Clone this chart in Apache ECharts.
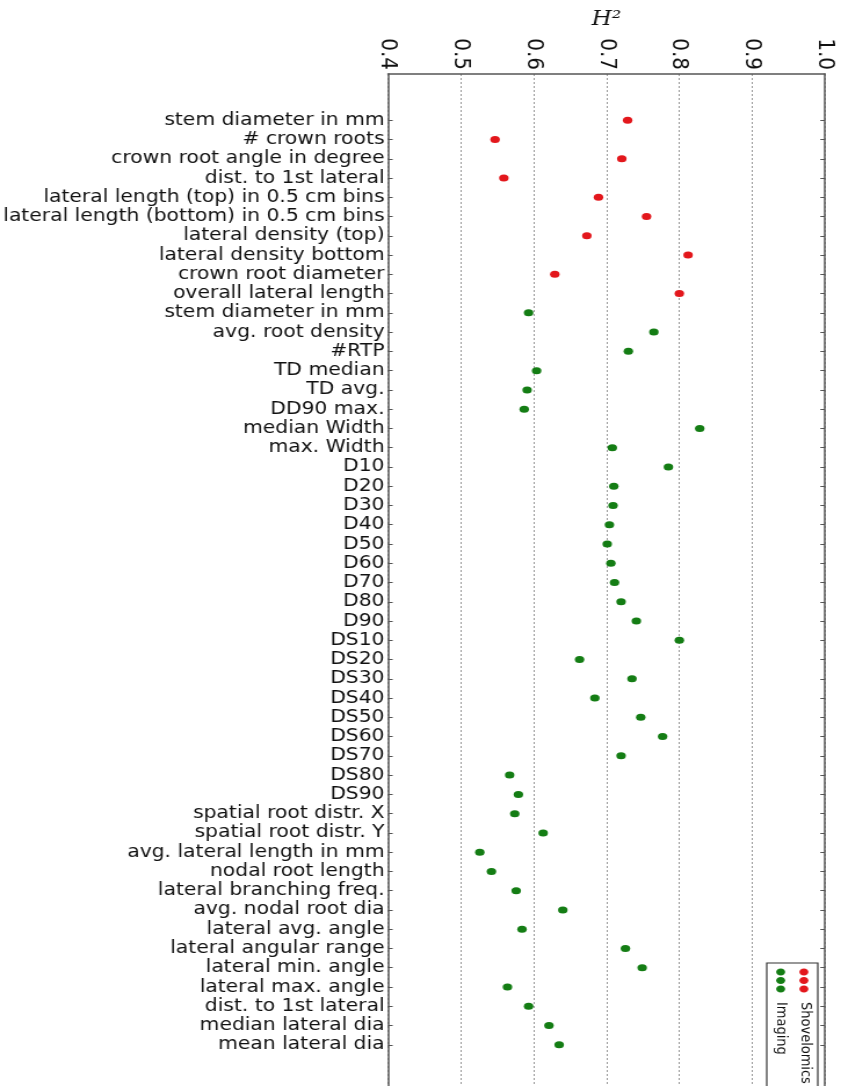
<!DOCTYPE html>
<html>
<head>
<meta charset="utf-8">
<script src="https://cdn.jsdelivr.net/npm/echarts@6/dist/echarts.min.js"></script>
<style>
  html, body { margin: 0; padding: 0; background: #fff; overflow: hidden; }
  /* the original figure is stretched sideways, so the chart is drawn narrower and scaled */
  #chart { width: 726px; height: 1086px; transform: scaleX(1.16); transform-origin: 0 0; }
</style>
</head>
<body>
<div id="chart"></div>
<script>
// trait names, top to bottom
var categories = [
  'stem diameter in mm', '# crown roots', 'crown root angle in degree', 'dist. to 1st lateral',
  'lateral length (top) in 0.5 cm bins', 'lateral length (bottom) in 0.5 cm bins',
  'lateral density (top)', 'lateral density bottom', 'crown root diameter', 'overall lateral length',
  'stem diameter in mm', 'avg. root density', '#RTP', 'TD median', 'TD avg.', 'DD90 max.',
  'median Width', 'max. Width', 'D10', 'D20', 'D30', 'D40', 'D50', 'D60', 'D70', 'D80', 'D90',
  'DS10', 'DS20', 'DS30', 'DS40', 'DS50', 'DS60', 'DS70', 'DS80', 'DS90',
  'spatial root distr. X', 'spatial root distr. Y', 'avg. lateral length in mm', 'nodal root length',
  'lateral branching freq.', 'avg. nodal root dia', 'lateral avg. angle', 'lateral angular range',
  'lateral min. angle', 'lateral max. angle', 'dist. to 1st lateral', 'median lateral dia', 'mean lateral dia'
];

// H^2 values, Shovelomics = first 10 traits, Imaging = the rest
var shovelomicsValues = [0.729, 0.547, 0.721, 0.559, 0.689, 0.755, 0.673, 0.812, 0.629, 0.800];
var imagingValues = [
  0.593, 0.765, 0.730, 0.604, 0.591, 0.587, 0.828, 0.708, 0.785, 0.710, 0.709, 0.704, 0.701,
  0.706, 0.711, 0.720, 0.741, 0.800, 0.663, 0.735, 0.684, 0.747, 0.777, 0.720, 0.567, 0.579,
  0.574, 0.613, 0.526, 0.542, 0.576, 0.640, 0.584, 0.726, 0.749, 0.564, 0.593, 0.621, 0.635
];
var xTicks = [0.4, 0.5, 0.6, 0.7, 0.8, 0.9, 1.0];

var nShovel = shovelomicsValues.length;
var positions = categories.map(function (c, i) { return i; });
var shovelData = shovelomicsValues.map(function (v, i) { return [v, i]; });
var imagingData = imagingValues.map(function (v, i) { return [v, i + nShovel]; });

var RED = '#e3171c';
var GREEN = '#147d14';
var FRAME = '#555';

var chart = echarts.init(document.getElementById('chart'));

// legend drawn by hand: rotated like the original figure
function legendDots(x, color) {
  return [972, 980.5, 989].map(function (y) {
    return { type: 'ellipse', shape: { cx: x, cy: y, rx: 3.9, ry: 3.5 }, style: { fill: color }, z: 101 };
  });
}

var option = {
  animation: false,
  backgroundColor: '#fff',
  grid: { left: 334.5, right: 14.8, top: 74, bottom: -5, outerBoundsMode: 'none' },
  xAxis: {
    type: 'value',
    position: 'top',
    min: 0.4,
    max: 1.0,
    interval: 0.1,
    name: 'H²',
    nameLocation: 'middle',
    nameGap: 43,
    nameTextStyle: { fontFamily: 'DejaVu Serif', fontStyle: 'italic', fontSize: 20, color: '#111' },
    axisLine: { show: true, onZero: false, lineStyle: { color: FRAME, width: 1.5 } },
    axisTick: { show: false },
    axisLabel: {
      rotate: 90,
      margin: 4,
      fontFamily: 'DejaVu Sans',
      fontSize: 20,
      color: '#111',
      customValues: xTicks,
      formatter: function (v) { return v.toFixed(1); }
    },
    splitLine: { show: true, lineStyle: { type: [2, 2], color: '#999', width: 1 } }
  },
  yAxis: [
    {
      type: 'value',
      inverse: true,
      min: -2.4,
      max: 50.4,
      position: 'left',
      axisLine: { show: true, onZero: false, lineStyle: { color: FRAME, width: 1.5 } },
      axisTick: { show: true, inside: true, length: 4, customValues: positions, lineStyle: { color: FRAME } },
      axisLabel: {
        margin: 3,
        fontFamily: 'DejaVu Sans',
        fontSize: 17.5,
        color: '#111',
        customValues: positions,
        formatter: function (v) { return categories[v]; }
      },
      splitLine: { show: false }
    },
    {
      type: 'value',
      inverse: true,
      min: -2.4,
      max: 50.4,
      position: 'right',
      axisLine: { show: true, onZero: false, lineStyle: { color: FRAME, width: 1.5 } },
      axisTick: { show: true, inside: true, length: 4, customValues: positions, lineStyle: { color: FRAME } },
      axisLabel: { show: false },
      splitLine: { show: false }
    }
  ],
  series: [
    {
      name: 'Shovelomics',
      type: 'scatter',
      symbol: 'circle',
      symbolSize: [8.2, 7],
      itemStyle: { color: RED, opacity: 1 },
      data: shovelData
    },
    {
      name: 'Imaging',
      type: 'scatter',
      symbol: 'circle',
      symbolSize: [8.2, 7],
      itemStyle: { color: GREEN, opacity: 1 },
      data: imagingData
    }
  ],
  graphic: [
    { type: 'rect', shape: { x: 661, y: 963, width: 44, height: 140 }, style: { fill: '#fff', stroke: '#333', lineWidth: 1.2 }, z: 100 },
    { type: 'text', x: 694, y: 1002, rotation: -Math.PI / 2, z: 101,
      style: { text: 'Shovelomics', fontFamily: 'DejaVu Sans', fontSize: 13, fill: '#111', align: 'left', verticalAlign: 'middle' } },
    { type: 'text', x: 673.5, y: 1002, rotation: -Math.PI / 2, z: 101,
      style: { text: 'Imaging', fontFamily: 'DejaVu Sans', fontSize: 13, fill: '#111', align: 'left', verticalAlign: 'middle' } }
  ].concat(legendDots(693, RED), legendDots(673, GREEN))
};

chart.setOption(option);
</script>
</body>
</html>
